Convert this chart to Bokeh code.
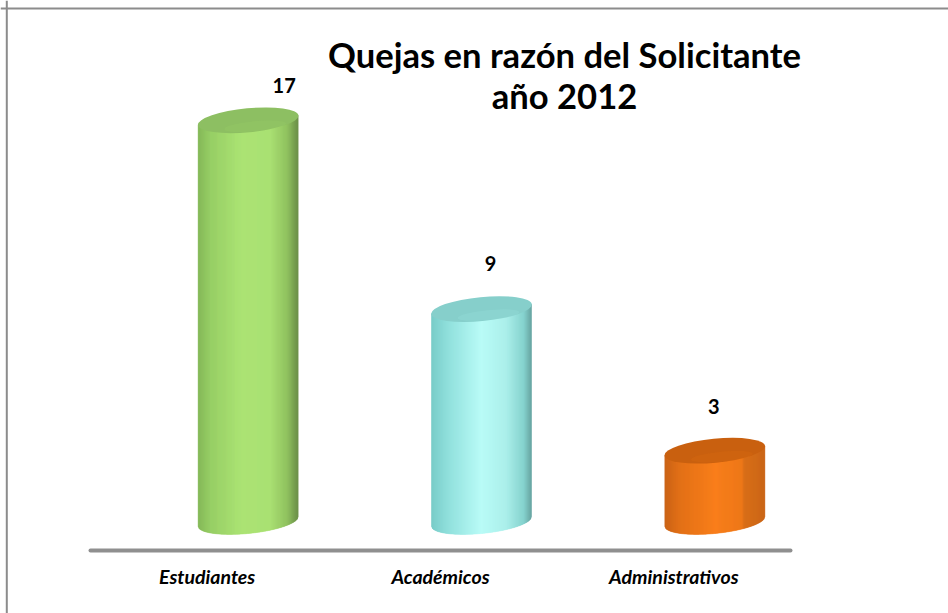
import math
from bokeh.plotting import figure
from bokeh.models import ColumnDataSource, FixedTicker, Range1d, Span
from bokeh.core.properties import value
from bokeh.embed import file_html
from bokeh.resources import INLINE

categories = ["Estudiantes", "Académicos", "Administrativos"]
values = [17, 9, 3]
title_lines = ["Quejas en razón del Solicitante", "año 2012"]

# shading across each cylinder: (position -1..1, colour)
stops_green = [(-1, "#7fb551"), (-0.75, "#93cc5f"), (-0.1, "#a9e36f"), (0.45, "#a6df6d"), (0.8, "#8abd58"), (1, "#648a40")]
stops_blue = [(-1, "#6fc8c4"), (-0.7, "#86dcd8"), (0.0, "#b4fbf6"), (0.5, "#a5eee9"), (0.85, "#7ccfca"), (1, "#5f9f9c")]
stops_orange = [(-1, "#c85c0c"), (-0.7, "#e26b0e"), (0.0, "#f97a12"), (0.55, "#ee7310"), (0.58, "#d96a10"), (1, "#c9600e")]
stops = [stops_green, stops_blue, stops_orange]
top_colors = ["#8dbf62", "#86cfcb", "#c9600f"]
lens_colors = ["#a9e36f", "#b4fbf6", "#f97a12"]
label_dx = [77, 50, 40]
label_dy = [-35, -46, -44]

PX_X = 700 / 3      # pixels per category
PX_Y = 23.6         # pixels per unit
X0, Y0 = 90, 521    # canvas pixel of x=0, y=0
W, H = 948, 613
A, B = 50, 12       # ellipse semi axes
TILT = 0.095        # rise per pixel
SHIFT = 41 / PX_X   # depth offset of the cylinders from the category centre


def hex2rgb(h):
    return [int(h[i:i + 2], 16) for i in (1, 3, 5)]


def shade(st, t):
    for (t0, c0), (t1, c1) in zip(st, st[1:]):
        if t <= t1:
            f = (t - t0) / (t1 - t0)
            a, b = hex2rgb(c0), hex2rgb(c1)
            return "#%02x%02x%02x" % tuple(round(u + (v - u) * f) for u, v in zip(a, b))
    return st[-1][1]


p = figure(
    width=W, height=H, output_backend="svg", toolbar_location=None,
    x_range=Range1d(-X0 / PX_X, (W - X0) / PX_X),
    y_range=Range1d(-(H - Y0) / PX_Y, Y0 / PX_Y),
    min_border=0, outline_line_color=None,
)
p.grid.visible = False
p.yaxis.visible = False

ax = p.xaxis[0]
ax.ticker = FixedTicker(ticks=[i + 0.5 for i in range(len(categories))])
ax.major_label_overrides = {i + 0.5: c for i, c in enumerate(categories)}
ax.bounds = (0, len(categories))
ax.fixed_location = -29 / PX_Y
ax.axis_line_color = "#8f8f8f"
ax.axis_line_width = 4
ax.axis_line_cap = "round"
ax.major_tick_line_color = None
ax.minor_tick_line_color = None
ax.major_label_standoff = 8
ax.major_label_text_font = "Lato"
ax.major_label_text_font_style = "bold italic"
ax.major_label_text_font_size = "19.5px"
ax.major_label_text_color = "#000000"

# sheet edges
p.add_layout(Span(location=6.3, location_units="screen", dimension="height", line_color="#8c8c8c", line_width=2))
p.add_layout(Span(location=H - 8, location_units="screen", dimension="width", line_color="#8c8c8c", line_width=2))

# cylinders
N = 100
for i, v in enumerate(values):
    cx = i + 0.5 + SHIFT
    xs, ys, cols = [], [], []
    for k in range(N):
        d0 = -A + 2 * A * k / N
        d1 = -A + 2 * A * (k + 1) / N
        low0 = (d0 * TILT - B * math.sqrt(max(0, 1 - (d0 / A) ** 2))) / PX_Y
        low1 = (d1 * TILT - B * math.sqrt(max(0, 1 - (d1 / A) ** 2))) / PX_Y
        xs.append([cx + d0 / PX_X, cx + d1 / PX_X, cx + d1 / PX_X, cx + d0 / PX_X])
        ys.append([low0, low1, v + d1 * TILT / PX_Y, v + d0 * TILT / PX_Y])
        cols.append(shade(stops[i], (d0 + d1) / 2 / A))
    p.patches(xs, ys, fill_color=cols, line_color=cols, line_width=0.5)
    p.ellipse(x=[cx], y=[v], width=[2 * A + 1], height=[2 * B], width_units="screen", height_units="screen",
              angle=[math.atan(TILT)], fill_color=top_colors[i], line_color=None)
    # softer inner zone of the top face
    p.ellipse(x=[cx + 7 / PX_X], y=[v - 6 / PX_Y], width=[62], height=[10], width_units="screen", height_units="screen",
              angle=[math.atan(TILT)], fill_color=lens_colors[i], fill_alpha=0.12, line_color=None)

# value labels
src = ColumnDataSource(dict(
    x=[i + 0.5 for i in range(len(values))], y=values, t=[str(v) for v in values],
    xo=label_dx, yo=label_dy,
))
p.text("x", "y", text="t", source=src, x_offset="xo", y_offset="yo", text_align="center", text_baseline="middle",
       text_font=value("Lato"), text_font_style="bold", text_font_size="20px", text_color="#000000")

# title
p.text(x=[(564 - X0) / PX_X] * 2, y=[(Y0 - 54) / PX_Y, (Y0 - 95) / PX_Y], text=title_lines,
       text_align="center", text_baseline="middle",
       text_font=value("Lato"), text_font_style="bold", text_font_size="34.6px", text_color="#000000")

open("out.html", "w").write(file_html(p, INLINE))
